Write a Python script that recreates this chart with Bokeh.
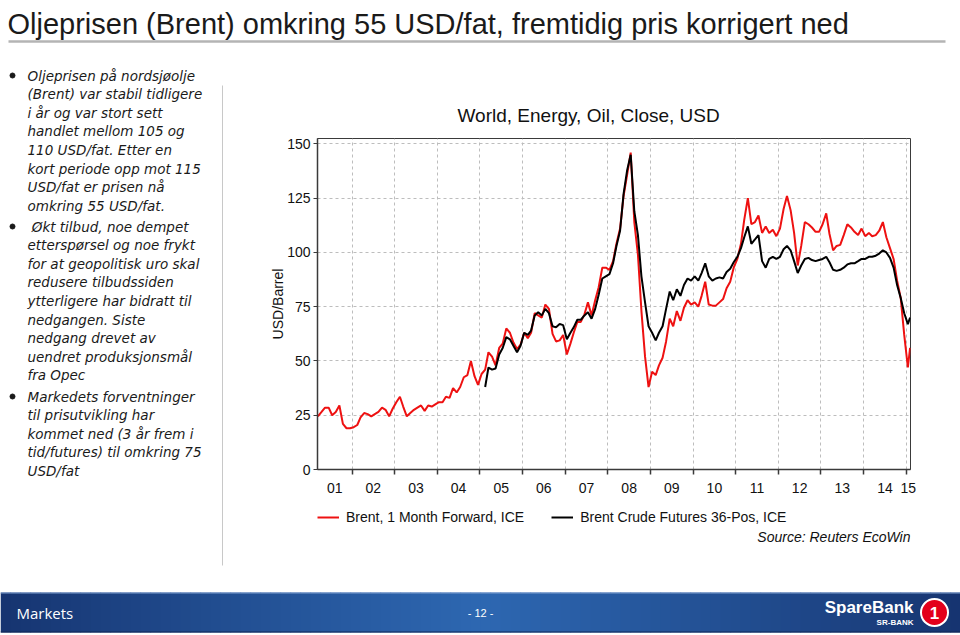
import numpy as np
import pandas as pd
from bokeh.plotting import figure
from bokeh.models import Range1d, FixedTicker, Legend, LegendItem
from bokeh.layouts import column, row
from bokeh.embed import file_html
from bokeh.resources import INLINE
from bokeh.core.properties import value

FONT = "Liberation Sans"

# ---------------- data ----------------
slide_title = "Oljeprisen (Brent) omkring 55 USD/fat, fremtidig pris korrigert ned"
chart_title = "World, Energy, Oil, Close, USD"
y_label = "USD/Barrel"
series_names = ["Brent, 1 Month Forward, ICE", "Brent Crude Futures 36-Pos, ICE"]
source_text = "Source: Reuters EcoWin"
year_labels = ["01", "02", "03", "04", "05", "06", "07", "08", "09", "10", "11", "12", "13", "14", "15"]
y_ticks = [0, 25, 50, 75, 100, 125, 150]

bullet1 = ["Oljeprisen på nordsjøolje", "(Brent) var stabil tidligere", "i år og var stort sett",
           "handlet mellom 105 og", "110 USD/fat. Etter en", "kort periode opp mot 115",
           "USD/fat er prisen nå", "omkring 55 USD/fat."]
bullet2 = ["\u00a0Økt tilbud, noe dempet", "etterspørsel og noe frykt", "for at geopolitisk uro skal",
           "redusere tilbudssiden", "ytterligere har bidratt til", "nedgangen. Siste",
           "nedgang drevet av", "uendret produksjonsmål", "fra Opec"]
bullet3 = ["Markedets forventninger", "til prisutvikling har", "kommet ned (3 år frem i",
           "tid/futures) til omkring 75", "USD/fat"]

# Brent 1 month forward, monthly readings (Mar 2001 .. Jan 2015, plus last day)
red_2001 = [24.5, 26.5, 28.5, 28.5, 25.0, 26.5, 29.5, 21.0, 19.0, 19.0]
red_2002 = [19.5, 20.5, 24.0, 26.0, 25.5, 24.5, 25.5, 26.5, 28.5, 27.5, 24.5, 28.0]
red_2003 = [31.0, 33.5, 29.0, 24.5, 26.0, 27.5, 28.5, 29.5, 27.0, 29.5, 29.0, 30.0]
red_2004 = [31.0, 31.0, 33.5, 33.0, 37.5, 35.5, 38.0, 42.5, 43.5, 50.0, 43.0, 39.0]
red_2005 = [44.0, 46.0, 54.0, 52.0, 48.0, 56.0, 58.0, 65.0, 63.0, 58.5, 55.5, 57.5]
red_2006 = [63.0, 60.5, 63.0, 72.0, 71.0, 70.0, 76.0, 74.0, 62.5, 59.0, 59.5, 62.0]
red_2007 = [53.0, 58.0, 63.0, 68.0, 68.0, 71.5, 77.0, 71.0, 78.0, 84.0, 93.0, 93.0]
red_2008 = [92.0, 96.0, 104.0, 111.0, 126.0, 136.0, 146.0, 114.0, 99.0, 73.0, 52.0, 38.0]
red_2009 = [45.0, 43.5, 48.0, 51.5, 59.0, 69.5, 66.0, 73.0, 68.5, 74.5, 78.0, 76.0]
red_2010 = [77.0, 75.0, 80.0, 86.5, 76.0, 75.5, 75.5, 77.0, 78.5, 83.5, 86.5, 93.0]
red_2011 = [97.0, 104.0, 115.0, 125.0, 113.0, 114.0, 117.0, 109.0, 112.0, 109.0, 110.5, 107.5]
red_2012 = [111.0, 120.0, 126.0, 119.5, 109.0, 94.0, 103.0, 114.0, 113.0, 111.5, 109.5, 109.5]
red_2013 = [113.0, 118.0, 108.5, 101.0, 103.0, 103.5, 108.0, 113.0, 111.5, 109.5, 108.0, 111.0]
red_2014 = [107.5, 109.0, 107.5, 108.0, 110.0, 114.0, 107.0, 102.0, 97.0, 87.0, 79.0, 62.0]
red_2015 = [47.0, 56.0]

# Brent crude futures 36-pos, monthly readings (Feb 2005 .. Jan 2015, plus last day)
black_2005 = [38.0, 47.0, 46.0, 46.5, 53.0, 56.0, 61.0, 60.0, 57.0, 54.0, 57.0]
black_2006 = [63.0, 62.0, 64.0, 71.0, 72.5, 71.0, 74.0, 72.0, 66.0, 65.5, 67.0, 66.5]
black_2007 = [60.0, 63.0, 65.5, 69.0, 69.0, 71.0, 72.5, 69.5, 74.0, 80.5, 88.0, 89.0]
black_2008 = [90.0, 95.0, 103.0, 110.0, 127.0, 138.0, 145.0, 119.0, 108.0, 89.0, 77.0, 66.0]
black_2009 = [63.0, 59.5, 63.0, 66.0, 74.0, 82.0, 78.0, 83.0, 80.0, 85.0, 88.0, 87.0]
black_2010 = [89.0, 87.0, 90.5, 95.0, 89.0, 87.0, 88.0, 88.5, 88.0, 91.0, 92.5, 95.5]
black_2011 = [98.0, 102.0, 107.0, 112.0, 104.0, 106.0, 108.0, 96.0, 93.0, 97.0, 98.0, 97.0]
black_2012 = [98.0, 101.5, 103.0, 101.0, 96.0, 90.5, 94.0, 97.0, 97.5, 96.5, 96.0, 96.5]
black_2013 = [97.0, 98.0, 95.5, 92.0, 91.5, 92.0, 93.0, 94.5, 95.0, 95.0, 96.0, 97.0]
black_2014 = [97.0, 98.0, 98.0, 98.5, 99.5, 101.0, 100.0, 97.5, 93.0, 85.0, 79.0, 72.0]
black_2015 = [67.0, 70.0]

red_vals = (red_2001 + red_2002 + red_2003 + red_2004 + red_2005 + red_2006 + red_2007 +
            red_2008 + red_2009 + red_2010 + red_2011 + red_2012 + red_2013 + red_2014 + red_2015)
black_vals = (black_2005 + black_2006 + black_2007 + black_2008 + black_2009 + black_2010 +
              black_2011 + black_2012 + black_2013 + black_2014 + black_2015)

red_dates = pd.DatetimeIndex(list(pd.date_range("2001-03-01", "2015-01-01", freq="MS") + pd.Timedelta(days=14))
                             + [pd.Timestamp("2015-02-03")])
black_dates = pd.DatetimeIndex(list(pd.date_range("2005-02-01", "2015-01-01", freq="MS") + pd.Timedelta(days=14))
                               + [pd.Timestamp("2015-02-03")])


def dec_year(d):
    return np.asarray(d.year + (d.dayofyear - 1) / 365.25, dtype=float)


red_x = dec_year(red_dates)
black_x = dec_year(black_dates)

X0, X1 = 2001.19, 2015.10
year_bounds = list(range(2002, 2016))
label_pos = [(X0 + 2002) / 2] + [y + 0.5 for y in range(2002, 2015)] + [(2015 + X1) / 2]

RED = "#ee1111"
TXT = "#111111"

# chart frame geometry (shared by chart and its legend strip so the frames line up)
FR_W, FR_H = 593, 331
B_LEFT, B_RIGHT = 87, 50


def canvas_fig(w, h):
    f = figure(frame_width=w, frame_height=h, x_range=Range1d(0, w), y_range=Range1d(h, 0),
               output_backend="svg", toolbar_location=None, min_border=0,
               x_axis_location=None, y_axis_location=None, outline_line_color=None)
    f.grid.visible = False
    return f


# ---------------- header ----------------
hdr = canvas_fig(960, 50)
hdr.text(x=[7], y=[23], text=[slide_title], text_font=value(FONT), text_font_size=value("29px"),
         text_baseline="alphabetic", text_color="#1a1a1a")
hdr.segment(x0=[8], y0=[41], x1=[945], y1=[41], line_color="#b4b4b4", line_width=2.5)

# ---------------- left text ----------------
lf = canvas_fig(230, 540)
LH = 18.6
tx, ty, tt = [], [], []
dots_y = []
for start, lines in ((25, bullet1), (176, bullet2), (346, bullet3)):
    dots_y.append(start)
    for i, ln in enumerate(lines):
        tx.append(27)
        ty.append(start + i * LH)
        tt.append(ln)
lf.text(x=tx, y=ty, text=tt, text_font=value("DejaVu Sans"), text_font_style="italic",
        text_font_size=value("13.5px"), text_baseline="middle", text_color="#1a1a1a")
lf.scatter(x=[12] * len(dots_y), y=dots_y, size=5, marker="circle", color="#1a1a1a")
lf.segment(x0=[222], y0=[35], x1=[222], y1=[515], line_color="#c8c8c8", line_width=1)

# ---------------- chart ----------------
p = figure(frame_width=FR_W, frame_height=FR_H, x_range=Range1d(X0, X1), y_range=Range1d(0, 152.5),
           output_backend="svg", toolbar_location=None,
           min_border_left=B_LEFT, min_border_right=B_RIGHT, min_border_top=88, min_border_bottom=36,
           title=chart_title)
p.title.text_font = FONT
p.title.text_font_size = "19px"
p.title.text_font_style = "normal"
p.title.text_color = TXT
p.title.align = "left"
p.title.offset = 140
p.title.standoff = 25

p.outline_line_color = "#3a3a3a"
p.outline_line_width = 1
p.outline_line_alpha = 1

AX = "#3a3a3a"
xa = p.xaxis[0]
xa.ticker = FixedTicker(ticks=label_pos, minor_ticks=year_bounds)
xa.major_label_overrides = {pos: lab for pos, lab in zip(label_pos, year_labels)}
xa.major_tick_out = 0
xa.major_tick_in = 0
xa.minor_tick_out = 5
xa.minor_tick_in = 0
xa.minor_tick_line_color = AX
xa.minor_tick_line_width = 1.5
xa.axis_line_color = AX
xa.axis_line_width = 1.5
xa.major_label_standoff = 8
xa.major_label_text_font = FONT
xa.major_label_text_font_size = "14px"
xa.major_label_text_color = TXT

ya = p.yaxis[0]
ya.ticker = FixedTicker(ticks=y_ticks)
ya.major_tick_out = 4
ya.major_tick_in = 0
ya.minor_tick_out = 0
ya.minor_tick_in = 0
ya.major_tick_line_color = AX
ya.axis_line_color = AX
ya.axis_line_width = 1.5
ya.major_label_standoff = 3
ya.major_label_text_font = FONT
ya.major_label_text_font_size = "14px"
ya.major_label_text_color = TXT
ya.axis_label = y_label
ya.axis_label_text_font = FONT
ya.axis_label_text_font_size = "14px"
ya.axis_label_text_font_style = "normal"
ya.axis_label_text_color = TXT
ya.axis_label_standoff = -2

p.xgrid.ticker = FixedTicker(ticks=year_bounds)
for g in (p.xgrid[0], p.ygrid[0]):
    g.grid_line_color = "#bdbdbd"
    g.grid_line_dash = "3 3"
    g.grid_line_width = 1

p.line(red_x, red_vals, line_color=RED, line_width=2)
p.line(black_x, black_vals, line_color="#000000", line_width=2)

# ---------------- legend + source (strip under the chart, same frame columns) ----------------
lg = figure(frame_width=FR_W, frame_height=85, x_range=Range1d(0, FR_W), y_range=Range1d(85, 0),
            output_backend="svg", toolbar_location=None,
            min_border_left=B_LEFT, min_border_right=B_RIGHT, min_border_top=0, min_border_bottom=0,
            x_axis_location=None, y_axis_location=None, outline_line_color=None)
lg.grid.visible = False
nan2 = [float("nan"), float("nan")]
lr = lg.line(x=nan2, y=nan2, line_color=RED, line_width=2)
lb = lg.line(x=nan2, y=nan2, line_color="#000000", line_width=2)
legend = Legend(items=[LegendItem(label=series_names[0], renderers=[lr]),
                       LegendItem(label=series_names[1], renderers=[lb])],
                orientation="horizontal", location="top_left", margin=0, padding=6,
                spacing=27, glyph_width=22, glyph_height=24, label_height=24, label_standoff=7,
                label_text_font=FONT, label_text_font_size="14px", label_text_color=TXT,
                border_line_color=None, background_fill_alpha=0)
lg.add_layout(legend, "center")
lg.text(x=[FR_W], y=[31], text=[source_text], text_font=value(FONT), text_font_size=value("14px"),
        text_font_style="italic", text_align="right", text_baseline="middle", text_color=TXT)

# ---------------- footer ----------------
ft = canvas_fig(960, 44)
n = 96
edges = np.linspace(0, 960, n + 1)
tc = (edges[:-1] + edges[1:]) / 2 / 960
wgt = 1 - np.abs(2 * tc - 1)
c_edge = np.array([22, 52, 112])
c_mid = np.array([46, 104, 178])
cols = ["#%02x%02x%02x" % tuple((c_edge + (c_mid - c_edge) * (wi ** 0.9)).astype(int)) for wi in wgt]
ft.quad(left=edges[:-1], right=edges[1:] + 0.6, top=[2] * n, bottom=[42] * n, fill_color=cols, line_color=None)
ft.segment(x0=[0], y0=[2.5], x1=[960], y1=[2.5], line_color="#7f9fd0", line_width=1)
ft.segment(x0=[0], y0=[41.5], x1=[960], y1=[41.5], line_color="#0e2656", line_width=1)
ft.text(x=[16], y=[22], text=["Markets"], text_font=value("Open Sans"), text_font_size=value("15px"),
        text_baseline="middle", text_color="white")
ft.text(x=[480], y=[22], text=["- 12 -"], text_font=value(FONT), text_font_size=value("11px"),
        text_baseline="middle", text_align="center", text_color="white")
ft.text(x=[913], y=[17], text=["SpareBank"], text_font=value(FONT), text_font_size=value("17px"),
        text_font_style="bold", text_baseline="middle", text_align="right", text_color="white")
ft.text(x=[913], y=[32], text=["SR-BANK"], text_font=value(FONT), text_font_size=value("8px"),
        text_font_style="bold", text_baseline="middle", text_align="right", text_color="white")
ft.scatter(x=[934], y=[22], size=27, marker="circle", fill_color="#e3001b", line_color="white", line_width=2)
ft.text(x=[934], y=[22], text=["1"], text_font=value(FONT), text_font_size=value("17px"),
        text_font_style="bold", text_baseline="middle", text_align="center", text_color="white")

layout = column(hdr, row(lf, column(p, lg)), ft)
open("out.html", "w").write(file_html(layout, INLINE, title="Oljeprisen"))
